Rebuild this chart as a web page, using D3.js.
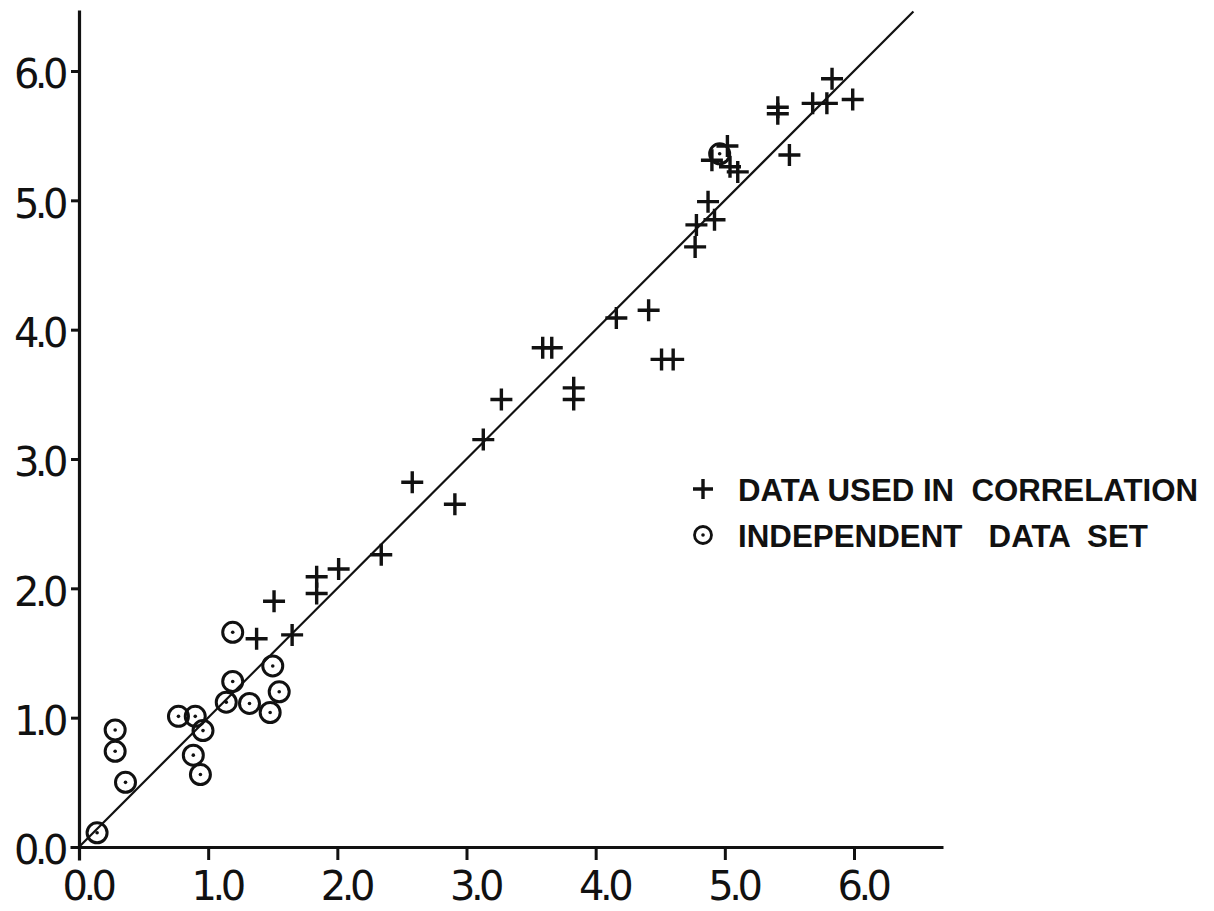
<!DOCTYPE html>
<html>
<head>
<meta charset="utf-8">
<script src="https://cdn.jsdelivr.net/npm/d3@7"></script>
<style>
  body { margin: 0; background: #fff; }
  svg { display: block; }
</style>
</head>
<body>
<svg width="1214" height="911"></svg>
<script>
// data: correlation set (+) and independent set (circled dot)
const corrX = [1.375, 1.51, 1.65, 1.84, 1.84, 2.01, 2.34, 2.58, 2.91, 3.13, 3.27, 3.59, 3.66,
  3.83, 3.83, 4.16, 4.41, 4.51, 4.60, 4.77, 4.78, 4.87, 4.92, 4.90, 5.02, 5.04, 5.10,
  5.41, 5.41, 5.50, 5.68, 5.79, 5.83, 5.99];
const corrY = [1.61, 1.90, 1.64, 2.09, 1.96, 2.15, 2.26, 2.82, 2.65, 3.15, 3.46, 3.86, 3.86,
  3.55, 3.46, 4.09, 4.15, 3.77, 3.77, 4.64, 4.81, 4.99, 4.85, 5.31, 5.42, 5.26, 5.22,
  5.72, 5.67, 5.35, 5.75, 5.75, 5.94, 5.78];
const indepX = [0.14, 0.28, 0.28, 0.36, 0.77, 0.90, 0.96, 0.885, 0.94, 1.14, 1.19, 1.32,
  1.19, 1.50, 1.55, 1.48, 4.96];
const indepY = [0.11, 0.905, 0.74, 0.50, 1.01, 1.01, 0.90, 0.71, 0.56, 1.12, 1.28, 1.11,
  1.66, 1.40, 1.20, 1.04, 5.36];
const tickVals = [0, 1, 2, 3, 4, 5, 6];
const fitLine = [[0, 0], [6.46, 6.46]];
const legendLabels = ['DATA USED IN  CORRELATION', 'INDEPENDENT   DATA  SET'];

const ink = '#111';
const svg = d3.select('svg');

// both axes ~129 px per unit
const xs = d3.scaleLinear().domain([0, 6]).range([79, 854]);
const ys = d3.scaleLinear().domain([0, 6]).range([847, 71]);
// same mapping, but longer axis lines (they run past the last tick)
const xAx = xs.copy().domain([xs.invert(70), xs.invert(943)]).range([70, 943]);
const yAx = ys.copy().domain([ys.invert(860), ys.invert(10)]).range([860, 10]);

function labelStyle(sel) {
  sel.attr('fill', ink)
    .style('font-family', 'DejaVu Sans').style('font-size', '40px')
    .style('letter-spacing', '-4.5px');
}

// x axis
const gx = svg.append('g').attr('transform', 'translate(0,' + ys(0) + ')')
  .call(d3.axisBottom(xAx).tickValues(tickVals).tickFormat(d3.format('.1f'))
    .tickSize(13).tickSizeOuter(0).tickPadding(12));
gx.select('.domain').attr('stroke', ink).attr('stroke-width', 3.2);
gx.selectAll('.tick line').attr('stroke', ink).attr('stroke-width', 3);
gx.selectAll('.tick text').attr('dx', 8).call(labelStyle);

// y axis
const gy = svg.append('g').attr('transform', 'translate(' + xs(0) + ',0)')
  .call(d3.axisLeft(yAx).tickValues(tickVals).tickFormat(d3.format('.1f'))
    .tickSize(8).tickSizeOuter(0).tickPadding(7));
gy.select('.domain').attr('stroke', ink).attr('stroke-width', 3.2);
gy.selectAll('.tick line').attr('stroke', ink).attr('stroke-width', 3);
gy.selectAll('.tick text').attr('dy', '0.42em').call(labelStyle);

// 45 degree line
svg.append('line')
  .attr('x1', xs(fitLine[0][0])).attr('y1', ys(fitLine[0][1]))
  .attr('x2', xs(fitLine[1][0])).attr('y2', ys(fitLine[1][1]))
  .attr('stroke', ink).attr('stroke-width', 2.2);

const plus = 'M-11,0H11M0,-11V11';

// correlation points
svg.append('g').selectAll('path')
  .data(d3.range(corrX.length))
  .join('path')
  .attr('transform', function(i) {
    return 'translate(' + xs(corrX[i]) + ',' + ys(corrY[i]) + ')';
  })
  .attr('d', plus).attr('fill', 'none')
  .attr('stroke', ink).attr('stroke-width', 3.4);

// independent points
const ind = svg.append('g').selectAll('g')
  .data(d3.range(indepX.length))
  .join('g')
  .attr('transform', function(i) {
    return 'translate(' + xs(indepX[i]) + ',' + ys(indepY[i]) + ')';
  });
ind.append('circle').attr('r', 10)
  .attr('fill', 'none').attr('stroke', ink).attr('stroke-width', 3);
ind.append('circle').attr('r', 1.8).attr('fill', ink);

// legend
const lg = svg.append('g').attr('transform', 'translate(703,489)');
lg.append('path').attr('d', 'M-10,0H10M0,-10V10')
  .attr('stroke', ink).attr('stroke-width', 3.4);
lg.append('circle').attr('cy', 46).attr('r', 8.5)
  .attr('fill', 'none').attr('stroke', ink).attr('stroke-width', 2.8);
lg.append('circle').attr('cy', 46).attr('r', 1.8).attr('fill', ink);
lg.selectAll('text.label')
  .data(legendLabels)
  .join('text')
  .attr('class', 'label')
  .attr('x', 35).attr('y', function(d, i) { return 12 + i * 46; })
  .attr('textLength', function(d, i) { return i === 0 ? 460 : 410; })
  .attr('lengthAdjust', 'spacingAndGlyphs')
  .style('white-space', 'pre')
  .style('font-family', 'Liberation Sans').style('font-weight', 'bold')
  .style('font-size', '31px').attr('fill', ink)
  .text(function(d) { return d; });
</script>
</body>
</html>
